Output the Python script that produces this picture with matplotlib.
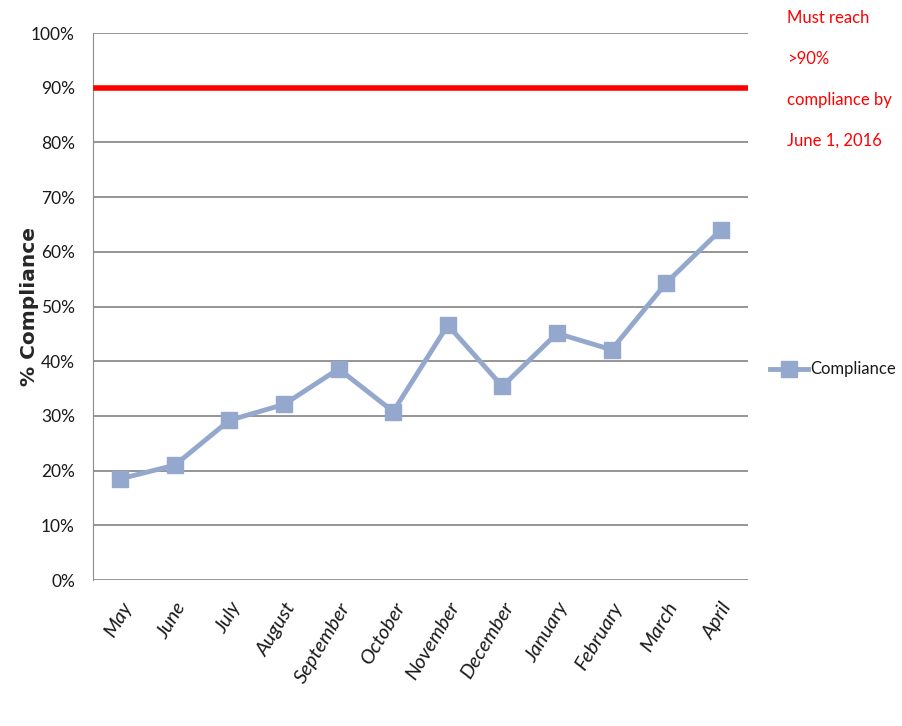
"""Monthly % compliance vs 90% target"""

import matplotlib
matplotlib.use('Agg')
import matplotlib.pyplot as plt
from matplotlib.ticker import FuncFormatter

months = ['May', 'June', 'July', 'August', 'September', 'October',
          'November', 'December', 'January', 'February', 'March', 'April']
compliance = [18.5, 21.0, 29.2, 32.1, 38.6, 30.8,
              46.6, 35.4, 45.1, 42.1, 54.3, 64.0]
target = 90
note = 'Must reach\n>90%\ncompliance by\nJune 1, 2016'

plt.rcParams['font.family'] = ['Lato', 'DejaVu Sans']
plt.rcParams['text.color'] = '#1a1a1a'

blue = '#94a8cd'
grid = '#8c8c8c'

fig = plt.figure(figsize=(9.02, 7.26), dpi=100)
ax = fig.add_axes([0.1031, 0.2011, 0.7262, 0.7534])

x = list(range(len(months)))
ax.axhline(target, xmin=0.005, xmax=1.0, color='#ff0000', lw=4, zorder=3)
ax.plot(x, compliance, color=blue, lw=3.5, marker='s', markersize=11,
        label='Compliance', zorder=4)

ax.set_xlim(-0.5, len(months) - 0.5)
ax.set_ylim(0, 100)
ax.set_yticks(range(0, 101, 10))
ax.yaxis.set_major_formatter(FuncFormatter(lambda v, p: '%d%%' % v))
ax.yaxis.grid(True, color=grid, lw=1.3)
ax.set_axisbelow(True)
for s in ['top', 'right', 'bottom']:
    ax.spines[s].set_visible(False)
ax.spines['left'].set_color(grid)
ax.tick_params(length=0, labelcolor='#1a1a1a')
ax.tick_params(axis='y', pad=13, labelsize=12.5)
ax.set_xticks(x)
ax.set_xticklabels(months, rotation=59, ha='right', va='top',
                   rotation_mode='anchor', style='italic', fontsize=14.5)
ax.tick_params(axis='x', pad=14)

ax.set_ylabel('% Compliance', fontsize=14.5, fontweight='bold',
              family=['DejaVu Sans'], color='#262626')
ax.yaxis.set_label_coords(-0.082, 0.5)

ax.legend(loc='center left', bbox_to_anchor=(1.01, 0.385), frameon=False,
          fontsize=12, handlelength=2.3, handletextpad=0.15,
          markerscale=1.0)

fig.text(0.873, 0.986, note, color='#ff0000', fontsize=12, va='top',
         ha='left', linespacing=2.9)

fig.savefig('out.png', dpi=100)
